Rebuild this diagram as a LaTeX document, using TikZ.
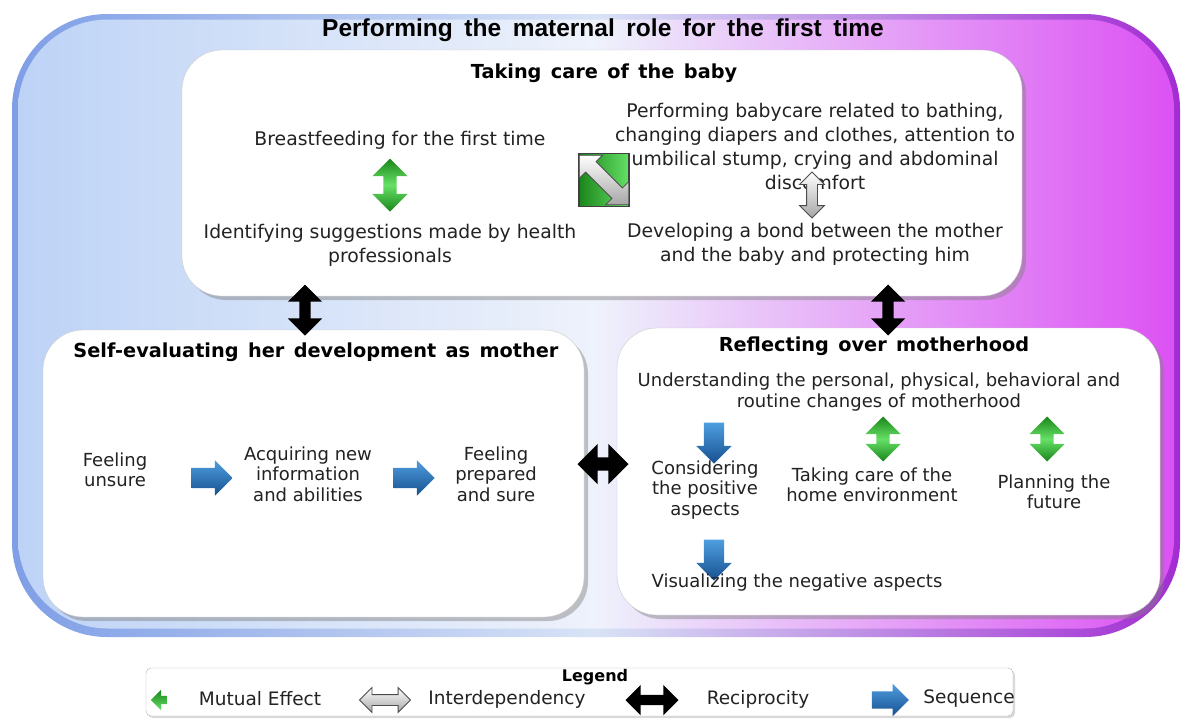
\documentclass[tikz,border=0pt]{standalone}
\usepackage{fontspec}
\setmainfont{DejaVu Sans}
\newfontfamily\titlefont[WordSpace=1.7]{Liberation Sans}
\newfontfamily\headfont[WordSpace=1.4]{DejaVu Sans}
\usetikzlibrary{shapes.arrows,shadows,positioning}
\definecolor{frblue}{HTML}{7F9EE6}
\definecolor{frmid}{HTML}{D8E3F6}
\definecolor{frmag}{HTML}{A22CD2}
\definecolor{bgblue}{HTML}{BDD3F6}
\definecolor{bgmid}{HTML}{EEF2FB}
\definecolor{bgmag}{HTML}{DC52F3}
\definecolor{grdark}{HTML}{1A861A}
\definecolor{grlight}{HTML}{66E066}
\definecolor{bldark}{HTML}{17508F}
\definecolor{bllight}{HTML}{4E9EE0}
\definecolor{txtcol}{HTML}{222222}

\begin{document}
\begin{tikzpicture}[x=1pt,y=-1pt,
  box/.style={draw=black!20,fill=white,inner sep=0pt,rounded corners=40pt,
    drop shadow={shadow xshift=4pt,shadow yshift=-4pt,opacity=.45}},
  head/.style={font=\headfont\bfseries\fontsize{19.3}{23}\selectfont,text=black},
  big/.style={align=center,text=txtcol,font=\fontsize{18.8}{24}\selectfont},
  small/.style={align=center,text=txtcol,font=\fontsize{18}{20.5}\selectfont},
  mutual/.style={double arrow,inner xsep=0pt,inner ysep=6.5pt,minimum height=53pt,minimum width=35pt,
    double arrow head extend=11pt,top color=grdark,bottom color=grdark,middle color=grlight},
  recip/.style={double arrow,inner xsep=0pt,inner ysep=5.5pt,fill=black,minimum height=51pt,
    minimum width=34pt,double arrow head extend=11.5pt},
  interdep/.style={double arrow,inner xsep=0pt,inner ysep=5pt,draw=black!70,thick,minimum height=46pt,
    minimum width=24pt,double arrow head extend=7pt,top color=white,bottom color=black!35},
  seq/.style={single arrow,inner xsep=0pt,inner ysep=10pt,minimum height=41pt,minimum width=35pt,
    single arrow head extend=7.5pt,top color=bllight,bottom color=bldark},
  legtxt/.style={text=txtcol,font=\fontsize{18.5}{20}\selectfont}]
\useasboundingbox (0,0) rectangle (1182,724);

\node[inner sep=0pt,rounded corners=95pt,minimum width=1168pt,minimum height=623pt,
  left color=frblue,right color=frmag,middle color=frmid] (frame) at (596,325.5) {};
\node[inner sep=0pt,rounded corners=90pt,minimum width=1156pt,minimum height=609pt,
  left color=bgblue,right color=bgmag,middle color=bgmid] (bg) at (596,324) {};
\node[font=\titlefont\bfseries\fontsize{24.5}{28}\selectfont] (title) at (603,30)
  {Performing the maternal role for the first time};

\node[box,minimum width=840pt,minimum height=246pt] (care) at (602,173) {};
\node[box,minimum width=541pt,minimum height=287pt] (self) at (313.5,473.5) {};
\node[box,minimum width=543pt,minimum height=287pt] (reflect) at (888.5,471.5) {};

\node[head] (caret) at (604,73) {Taking care of the baby};
\node[head] (selft) at (316,352) {Self-evaluating her development as mother};
\node[head] (reflectt) at (874,346) {Reflecting over motherhood};

% taking care of the baby
\node[big] (breast) at (400,140) {Breastfeeding for the first time};
\node[big] (sugg) at (390,245) {Identifying suggestions made by health\\professionals};
\node[mutual,rotate=90] (m1) at (390,185) {};
\node[big] (bathe) at (815,146) {Performing babycare related to bathing,\\changing diapers and clothes, attention to\\umbilical stump, crying and abdominal\\discomfort};
\node[big] (bond) at (815,244) {Developing a bond between the mother\\and the baby and protecting him};
\node[interdep,rotate=90] (i1) at (812,195) {};
\node[draw=black!75,line width=1.5pt,minimum width=50pt,minimum height=53pt,
  left color=grdark,right color=grlight] (icon) at (604,180) {};
\node[interdep,rotate=-45,minimum height=70pt,minimum width=32pt,inner ysep=7pt,
  double arrow head extend=9pt] (i2) at (icon) {};

% between the boxes
\node[recip,rotate=90] (r1) at (305,310) {};
\node[recip,rotate=90] (r2) at (888,310) {};
\node[recip,minimum width=40pt,inner ysep=6.5pt,double arrow head extend=13.5pt] (r3) at (603,464) {};

% self-evaluating
\node[small] (unsure) at (115,470) {Feeling\\unsure};
\node[seq] (s1) at (207,478) {};
\node[small] (acq) at (308,474) {Acquiring new\\information\\and abilities};
\node[seq] (s2) at (409,478) {};
\node[small] (prep) at (496,474) {Feeling\\prepared\\and sure};

% reflecting
\node[small] (underst) at (879,392) {Understanding the personal, physical, behavioral and\\routine changes of motherhood};
\node[seq,rotate=-90] (s3) at (714,438) {};
\node[mutual,rotate=90,minimum height=45pt] (m2) at (883,439) {};
\node[mutual,rotate=90,minimum height=45pt] (m3) at (1047,439) {};
\node[small] (pos) at (705,490) {Considering\\the positive\\aspects};
\node[small] (home) at (872,485) {Taking care of the\\home environment};
\node[small] (future) at (1054,492) {Planning the\\future};
\node[seq,rotate=-90] (s4) at (714,555) {};
\node[small] (neg) at (797,583) {Visualizing the negative aspects};

% legend
\node[draw=black!30,fill=white,rounded corners=5pt,minimum width=867pt,minimum height=48pt,
  drop shadow={shadow xshift=2pt,shadow yshift=-2pt,opacity=.3}] (legend) at (579.5,692) {};
\node[font=\bfseries\fontsize{16}{18}\selectfont] (legendt) at (595,677) {Legend};
\node[single arrow,inner xsep=0pt,inner ysep=4pt,rotate=180,minimum height=16pt,minimum width=20pt,
  single arrow head extend=6pt,top color=grdark,bottom color=grlight] (lg1) at (161,700) {};
\node[legtxt] (lt1) at (260,699) {Mutual Effect};
\node[interdep,minimum height=51pt] (lg2) at (385,700) {};
\node[legtxt] (lt2) at (507,699) {Interdependency};
\node[recip,minimum height=53pt,minimum width=30pt,inner ysep=5pt,double arrow head extend=10pt] (lg3) at (652,700) {};
\node[legtxt] (lt3) at (758,699) {Reciprocity};
\node[seq,minimum height=37pt,minimum width=32pt,inner ysep=8.5pt] (lg4) at (886,700) {};
\node[legtxt] (lt4) at (969,699) {Sequence};
\end{tikzpicture}
\end{document}
